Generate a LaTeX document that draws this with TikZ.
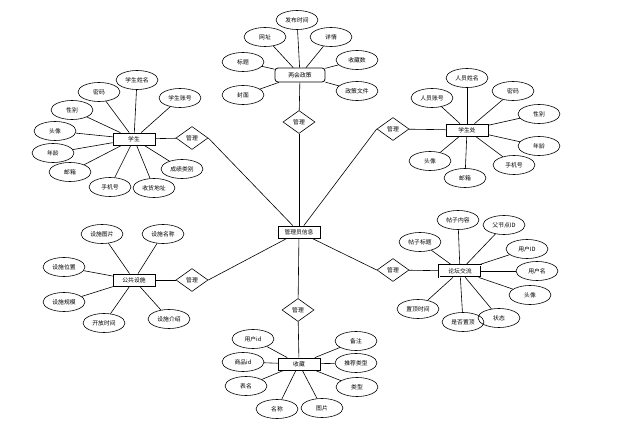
\documentclass[tikz,border=0pt]{standalone}
\usepackage{fontspec}
\usepackage{tikz}
\usetikzlibrary{shapes.geometric}
\newfontfamily\cjk{Noto Sans CJK SC}

\tikzset{
  attr/.style={draw, ellipse, minimum width=42pt, minimum height=19pt, inner sep=1pt, font=\cjk\fontsize{5.8}{6}\selectfont},
  entity/.style={draw, rectangle, thick, minimum width=42pt, minimum height=12pt, inner sep=1pt, font=\cjk\fontsize{5.8}{6}\selectfont},
  rel/.style={draw, diamond, minimum width=32pt, minimum height=23pt, inner sep=0pt, font=\cjk\fontsize{5.8}{6}\selectfont}
}

\begin{document}
\begin{tikzpicture}[x=1pt, y=-1pt, line width=0.6pt]
\useasboundingbox (0,0) rectangle (625,425);

\node[entity](Admin) at (299,232) {管理员信息};

% policy
\node[entity, rounded corners=3pt, minimum width=50pt, minimum height=14pt](Policy) at (300,75) {两会政策};
\node[rel](RPolicy) at (299,122) {管理};
\node[attr](P1) at (297,20) {发布时间};
\node[attr](P2) at (265,37) {网址};
\node[attr](P3) at (331,37) {详情};
\node[attr](P4) at (243,62) {标题};
\node[attr](P5) at (357,60) {收藏数};
\node[attr](P6) at (243,95) {封面};
\node[attr](P7) at (357,91) {政策文件};
\foreach \a in {P1,P2,P3,P4,P5,P6,P7}
  \draw[-](\a) to (Policy);
\draw[-](Policy) to (RPolicy);
\draw[-](RPolicy) to (Admin);

% student
\node[entity](Stu) at (134,139) {学生};
\node[rel](RStu) at (192,138) {管理};
\node[attr](S1) at (137,80) {学生姓名};
\node[attr](S2) at (99,92) {密码};
\node[attr](S3) at (180,98) {学生账号};
\node[attr](S4) at (72,110) {性别};
\node[attr](S5) at (55,131) {头像};
\node[attr](S6) at (53,153) {年龄};
\node[attr](S7) at (70,172) {邮箱};
\node[attr](S8) at (110,187) {手机号};
\node[attr](S9) at (154,188) {收货地址};
\node[attr](S10) at (182,169) {成绩类别};
\foreach \a in {S1,S2,S3,S4,S5,S6,S7,S8,S9,S10}
  \draw[-](\a) to (Stu);
\draw[-](Stu) to (RStu);
\draw[-](RStu.east) to (Admin);

% office
\node[entity](Off) at (467,130) {学生处};
\node[rel](ROff) at (393,129) {管理};
\node[attr](O1) at (467,78) {人员姓名};
\node[attr](O2) at (432,98) {人员账号};
\node[attr](O3) at (513,91) {密码};
\node[attr](O4) at (539,114) {性别};
\node[attr](O5) at (539,146) {年龄};
\node[attr](O6) at (514,165) {手机号};
\node[attr](O7) at (465,178) {邮箱};
\node[attr](O8) at (430,161) {头像};
\foreach \a in {O1,O2,O3,O4,O5,O6,O7,O8}
  \draw[-](\a) to (Off);
\draw[-](Off) to (ROff);
\draw[-](ROff.west) to (Admin);

% facility
\node[entity](Fac) at (134,280) {公共设施};
\node[rel](RFac) at (192,280) {管理};
\node[attr](F1) at (102,234) {设施图片};
\node[attr](F2) at (163,234) {设施名称};
\node[attr](F3) at (64,267) {设施位置};
\node[attr](F4) at (64,302) {设施规模};
\node[attr](F5) at (104,323) {开放时间};
\node[attr](F6) at (169,319) {设施介绍};
\foreach \a in {F1,F2,F3,F4,F5,F6}
  \draw[-](\a) to (Fac);
\draw[-](Fac) to (RFac);
\draw[-](RFac.east) to (Admin);

% forum
\node[entity, double](For) at (460,271) {论坛交流};
\node[rel](RFor) at (393,270) {管理};
\node[attr](T1) at (458,220) {帖子内容};
\node[attr](T2) at (504,225) {父节点ID};
\node[attr](T3) at (420,242) {帖子标题};
\node[attr](T4) at (527,249) {用户ID};
\node[attr](T5) at (537,271) {用户名};
\node[attr](T6) at (530,295) {头像};
\node[attr](T7) at (418,309) {置顶时间};
\node[attr](T8) at (463,322) {是否置顶};
\node[attr](T9) at (499,318) {状态};
\foreach \a in {T1,T2,T3,T4,T5,T6,T7,T8,T9}
  \draw[-](\a) to (For);
\draw[-](For) to (RFor);
\draw[-](RFor.west) to (Admin);

% collect
\node[entity](Col) at (299,364) {收藏};
\node[rel](RCol) at (298,310) {管理};
\node[attr](C1) at (253,339) {用户id};
\node[attr](C2) at (243,362) {商品id};
\node[attr](C3) at (246,386) {表名};
\node[attr](C4) at (277,409) {名称};
\node[attr](C5) at (322,408) {图片};
\node[attr](C6) at (356,341) {备注};
\node[attr](C7) at (356,363) {推荐类型};
\node[attr](C8) at (357,387) {类型};
\foreach \a in {C1,C2,C3,C4,C5,C6,C7,C8}
  \draw[-](\a) to (Col);
\draw[-](Col) to (RCol);
\draw[-](RCol) to (Admin);
\end{tikzpicture}
\end{document}
